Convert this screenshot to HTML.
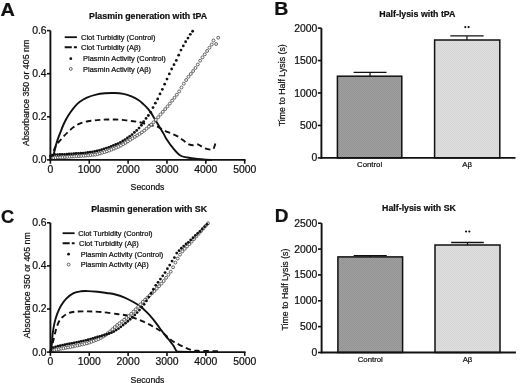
<!DOCTYPE html>
<html><head><meta charset="utf-8"><style>
html,body{margin:0;padding:0;background:#fff;width:520px;height:383px;overflow:hidden}
svg{will-change:transform} svg text{font-family:"Liberation Sans", sans-serif;stroke:#111;stroke-width:0.22px}
</style></head><body>
<svg width="520" height="383" viewBox="0 0 520 383" style="position:absolute;left:0;top:0;font-family:'Liberation Sans', sans-serif"><defs>
<pattern id="pd" width="2" height="2" patternUnits="userSpaceOnUse"><rect width="2" height="2" fill="#a0a0a0"/><rect width="1" height="1" fill="#939393"/><rect x="1" y="1" width="1" height="1" fill="#939393"/></pattern>
<pattern id="pl" width="2" height="2" patternUnits="userSpaceOnUse"><rect width="2" height="2" fill="#dedede"/><rect width="1" height="1" fill="#d6d6d6"/><rect x="1" y="1" width="1" height="1" fill="#d6d6d6"/></pattern>
</defs><rect width="520" height="383" fill="#fff"/><path d="M50.90,159.80 C51.27,159.22 52.52,157.67 53.10,156.30 C53.68,154.93 53.93,153.43 54.40,151.60 C54.87,149.77 55.33,147.38 55.90,145.30 C56.47,143.22 57.08,141.18 57.80,139.10 C58.52,137.02 59.28,135.15 60.20,132.80 C61.12,130.45 62.27,127.33 63.30,125.00 C64.33,122.67 65.23,120.88 66.40,118.80 C67.57,116.72 68.87,114.58 70.30,112.50 C71.73,110.42 73.47,108.05 75.00,106.30 C76.53,104.55 77.52,103.45 79.50,102.00 C81.48,100.55 84.13,98.83 86.90,97.60 C89.67,96.37 93.08,95.32 96.10,94.60 C99.12,93.88 101.98,93.57 105.00,93.30 C108.02,93.03 111.12,92.90 114.20,93.00 C117.28,93.10 120.62,93.33 123.50,93.90 C126.38,94.47 129.02,95.38 131.50,96.40 C133.98,97.42 136.38,98.67 138.40,100.00 C140.42,101.33 142.03,102.97 143.60,104.40 C145.17,105.83 146.58,107.23 147.80,108.60 C149.02,109.97 149.87,111.07 150.90,112.60 C151.93,114.13 152.95,116.07 154.00,117.80 C155.05,119.53 156.15,121.27 157.20,123.00 C158.25,124.73 159.27,126.47 160.30,128.20 C161.33,129.93 162.35,131.57 163.40,133.40 C164.45,135.23 164.98,136.73 166.60,139.20 C168.22,141.67 170.82,145.48 173.10,148.20 C175.38,150.92 177.90,153.95 180.30,155.50 C182.70,157.05 184.62,156.92 187.50,157.50 C190.38,158.08 194.47,158.63 197.60,159.00 C200.73,159.37 203.90,159.55 206.30,159.70 C208.70,159.85 211.05,159.87 212.00,159.90" fill="none" stroke="#111" stroke-width="1.9" stroke-linejoin="round"/>
<path d="M50.80,159.50 C51.10,158.50 51.95,155.35 52.60,153.50 C53.25,151.65 53.97,149.98 54.70,148.40 C55.43,146.82 56.08,145.33 57.00,144.00 C57.92,142.67 59.02,141.75 60.20,140.40 C61.38,139.05 62.67,137.42 64.10,135.90 C65.53,134.38 67.25,132.73 68.80,131.30 C70.35,129.87 71.58,128.58 73.40,127.30 C75.22,126.02 77.27,124.62 79.70,123.60 C82.13,122.58 85.03,121.78 88.00,121.20 C90.97,120.62 94.45,120.38 97.50,120.10 C100.55,119.82 103.28,119.60 106.30,119.50 C109.32,119.40 112.55,119.40 115.60,119.50 C118.65,119.60 121.70,119.82 124.60,120.10 C127.50,120.38 130.47,120.83 133.00,121.20 C135.53,121.57 137.37,121.73 139.80,122.30 C142.23,122.87 145.48,124.05 147.60,124.60 C149.72,125.15 150.78,125.23 152.50,125.60 C154.22,125.97 155.92,125.97 157.90,126.80 C159.88,127.63 162.12,129.47 164.40,130.60 C166.68,131.73 169.32,132.60 171.60,133.60 C173.88,134.60 176.17,135.48 178.10,136.60 C180.03,137.72 181.38,139.00 183.20,140.30 C185.02,141.60 187.32,143.57 189.00,144.40 C190.68,145.23 191.87,145.30 193.30,145.30 C194.73,145.30 196.40,144.32 197.60,144.40 C198.80,144.48 199.30,145.15 200.50,145.80 C201.70,146.45 203.12,147.67 204.80,148.30 C206.48,148.93 209.15,149.50 210.60,149.60 C212.05,149.70 212.65,150.10 213.50,148.90 C214.35,147.70 215.33,143.48 215.70,142.40" fill="none" stroke="#111" stroke-width="1.9" stroke-dasharray="5.5 3.5"/>
<circle cx="51.00" cy="158.00" r="1.45" fill="#fff" stroke="#4a4a4a" stroke-width="0.85"/>
<circle cx="53.33" cy="157.90" r="1.45" fill="#fff" stroke="#4a4a4a" stroke-width="0.85"/>
<circle cx="55.66" cy="157.80" r="1.45" fill="#fff" stroke="#4a4a4a" stroke-width="0.85"/>
<circle cx="57.99" cy="157.62" r="1.45" fill="#fff" stroke="#4a4a4a" stroke-width="0.85"/>
<circle cx="60.32" cy="157.44" r="1.45" fill="#fff" stroke="#4a4a4a" stroke-width="0.85"/>
<circle cx="62.65" cy="157.26" r="1.45" fill="#fff" stroke="#4a4a4a" stroke-width="0.85"/>
<circle cx="64.98" cy="157.07" r="1.45" fill="#fff" stroke="#4a4a4a" stroke-width="0.85"/>
<circle cx="67.31" cy="156.89" r="1.45" fill="#fff" stroke="#4a4a4a" stroke-width="0.85"/>
<circle cx="69.64" cy="156.74" r="1.45" fill="#fff" stroke="#4a4a4a" stroke-width="0.85"/>
<circle cx="71.97" cy="156.58" r="1.45" fill="#fff" stroke="#4a4a4a" stroke-width="0.85"/>
<circle cx="74.30" cy="156.42" r="1.45" fill="#fff" stroke="#4a4a4a" stroke-width="0.85"/>
<circle cx="76.63" cy="156.26" r="1.45" fill="#fff" stroke="#4a4a4a" stroke-width="0.85"/>
<circle cx="78.96" cy="156.11" r="1.45" fill="#fff" stroke="#4a4a4a" stroke-width="0.85"/>
<circle cx="81.29" cy="155.95" r="1.45" fill="#fff" stroke="#4a4a4a" stroke-width="0.85"/>
<circle cx="83.62" cy="155.79" r="1.45" fill="#fff" stroke="#4a4a4a" stroke-width="0.85"/>
<circle cx="85.95" cy="155.60" r="1.45" fill="#fff" stroke="#4a4a4a" stroke-width="0.85"/>
<circle cx="88.28" cy="155.36" r="1.45" fill="#fff" stroke="#4a4a4a" stroke-width="0.85"/>
<circle cx="90.61" cy="155.11" r="1.45" fill="#fff" stroke="#4a4a4a" stroke-width="0.85"/>
<circle cx="92.94" cy="154.87" r="1.45" fill="#fff" stroke="#4a4a4a" stroke-width="0.85"/>
<circle cx="95.27" cy="154.63" r="1.45" fill="#fff" stroke="#4a4a4a" stroke-width="0.85"/>
<circle cx="97.60" cy="154.17" r="1.45" fill="#fff" stroke="#4a4a4a" stroke-width="0.85"/>
<circle cx="99.93" cy="153.47" r="1.45" fill="#fff" stroke="#4a4a4a" stroke-width="0.85"/>
<circle cx="102.26" cy="152.76" r="1.45" fill="#fff" stroke="#4a4a4a" stroke-width="0.85"/>
<circle cx="104.59" cy="152.06" r="1.45" fill="#fff" stroke="#4a4a4a" stroke-width="0.85"/>
<circle cx="106.92" cy="151.36" r="1.45" fill="#fff" stroke="#4a4a4a" stroke-width="0.85"/>
<circle cx="109.25" cy="150.53" r="1.45" fill="#fff" stroke="#4a4a4a" stroke-width="0.85"/>
<circle cx="111.58" cy="149.58" r="1.45" fill="#fff" stroke="#4a4a4a" stroke-width="0.85"/>
<circle cx="113.91" cy="148.63" r="1.45" fill="#fff" stroke="#4a4a4a" stroke-width="0.85"/>
<circle cx="116.24" cy="147.67" r="1.45" fill="#fff" stroke="#4a4a4a" stroke-width="0.85"/>
<circle cx="118.57" cy="146.72" r="1.45" fill="#fff" stroke="#4a4a4a" stroke-width="0.85"/>
<circle cx="120.90" cy="145.55" r="1.45" fill="#fff" stroke="#4a4a4a" stroke-width="0.85"/>
<circle cx="123.23" cy="144.20" r="1.45" fill="#fff" stroke="#4a4a4a" stroke-width="0.85"/>
<circle cx="125.56" cy="142.85" r="1.45" fill="#fff" stroke="#4a4a4a" stroke-width="0.85"/>
<circle cx="127.89" cy="141.36" r="1.45" fill="#fff" stroke="#4a4a4a" stroke-width="0.85"/>
<circle cx="130.22" cy="139.83" r="1.45" fill="#fff" stroke="#4a4a4a" stroke-width="0.85"/>
<circle cx="132.55" cy="138.32" r="1.45" fill="#fff" stroke="#4a4a4a" stroke-width="0.85"/>
<circle cx="134.88" cy="136.88" r="1.45" fill="#fff" stroke="#4a4a4a" stroke-width="0.85"/>
<circle cx="137.21" cy="135.42" r="1.45" fill="#fff" stroke="#4a4a4a" stroke-width="0.85"/>
<circle cx="139.54" cy="133.95" r="1.45" fill="#fff" stroke="#4a4a4a" stroke-width="0.85"/>
<circle cx="141.87" cy="132.31" r="1.45" fill="#fff" stroke="#4a4a4a" stroke-width="0.85"/>
<circle cx="144.20" cy="130.60" r="1.45" fill="#fff" stroke="#4a4a4a" stroke-width="0.85"/>
<circle cx="146.53" cy="128.68" r="1.45" fill="#fff" stroke="#4a4a4a" stroke-width="0.85"/>
<circle cx="148.86" cy="126.71" r="1.45" fill="#fff" stroke="#4a4a4a" stroke-width="0.85"/>
<circle cx="151.19" cy="124.68" r="1.45" fill="#fff" stroke="#4a4a4a" stroke-width="0.85"/>
<circle cx="153.52" cy="122.38" r="1.45" fill="#fff" stroke="#4a4a4a" stroke-width="0.85"/>
<circle cx="155.85" cy="119.88" r="1.45" fill="#fff" stroke="#4a4a4a" stroke-width="0.85"/>
<circle cx="158.18" cy="117.24" r="1.45" fill="#fff" stroke="#4a4a4a" stroke-width="0.85"/>
<circle cx="160.51" cy="114.52" r="1.45" fill="#fff" stroke="#4a4a4a" stroke-width="0.85"/>
<circle cx="162.84" cy="111.82" r="1.45" fill="#fff" stroke="#4a4a4a" stroke-width="0.85"/>
<circle cx="165.17" cy="109.12" r="1.45" fill="#fff" stroke="#4a4a4a" stroke-width="0.85"/>
<circle cx="167.50" cy="106.40" r="1.45" fill="#fff" stroke="#4a4a4a" stroke-width="0.85"/>
<circle cx="169.83" cy="103.56" r="1.45" fill="#fff" stroke="#4a4a4a" stroke-width="0.85"/>
<circle cx="172.16" cy="100.67" r="1.45" fill="#fff" stroke="#4a4a4a" stroke-width="0.85"/>
<circle cx="174.49" cy="97.76" r="1.45" fill="#fff" stroke="#4a4a4a" stroke-width="0.85"/>
<circle cx="176.82" cy="94.72" r="1.45" fill="#fff" stroke="#4a4a4a" stroke-width="0.85"/>
<circle cx="179.15" cy="91.42" r="1.45" fill="#fff" stroke="#4a4a4a" stroke-width="0.85"/>
<circle cx="181.48" cy="87.53" r="1.45" fill="#fff" stroke="#4a4a4a" stroke-width="0.85"/>
<circle cx="183.81" cy="83.65" r="1.45" fill="#fff" stroke="#4a4a4a" stroke-width="0.85"/>
<circle cx="186.14" cy="80.04" r="1.45" fill="#fff" stroke="#4a4a4a" stroke-width="0.85"/>
<circle cx="188.47" cy="76.80" r="1.45" fill="#fff" stroke="#4a4a4a" stroke-width="0.85"/>
<circle cx="190.80" cy="73.93" r="1.45" fill="#fff" stroke="#4a4a4a" stroke-width="0.85"/>
<circle cx="193.13" cy="71.06" r="1.45" fill="#fff" stroke="#4a4a4a" stroke-width="0.85"/>
<circle cx="195.46" cy="67.96" r="1.45" fill="#fff" stroke="#4a4a4a" stroke-width="0.85"/>
<circle cx="197.79" cy="64.51" r="1.45" fill="#fff" stroke="#4a4a4a" stroke-width="0.85"/>
<circle cx="200.12" cy="60.70" r="1.45" fill="#fff" stroke="#4a4a4a" stroke-width="0.85"/>
<circle cx="202.45" cy="57.36" r="1.45" fill="#fff" stroke="#4a4a4a" stroke-width="0.85"/>
<circle cx="204.78" cy="54.32" r="1.45" fill="#fff" stroke="#4a4a4a" stroke-width="0.85"/>
<circle cx="207.11" cy="50.96" r="1.45" fill="#fff" stroke="#4a4a4a" stroke-width="0.85"/>
<circle cx="209.44" cy="47.69" r="1.45" fill="#fff" stroke="#4a4a4a" stroke-width="0.85"/>
<circle cx="211.77" cy="44.55" r="1.45" fill="#fff" stroke="#4a4a4a" stroke-width="0.85"/>
<circle cx="216.10" cy="44.00" r="1.45" fill="#fff" stroke="#4a4a4a" stroke-width="0.85"/>
<circle cx="218.20" cy="37.70" r="1.45" fill="#fff" stroke="#4a4a4a" stroke-width="0.85"/>
<circle cx="213.50" cy="40.50" r="1.45" fill="#fff" stroke="#4a4a4a" stroke-width="0.85"/>
<circle cx="50.50" cy="156.00" r="1.4" fill="#111"/>
<circle cx="52.83" cy="155.07" r="1.4" fill="#111"/>
<circle cx="55.16" cy="154.58" r="1.4" fill="#111"/>
<circle cx="57.49" cy="154.53" r="1.4" fill="#111"/>
<circle cx="59.82" cy="154.48" r="1.4" fill="#111"/>
<circle cx="62.15" cy="154.43" r="1.4" fill="#111"/>
<circle cx="64.48" cy="154.33" r="1.4" fill="#111"/>
<circle cx="66.81" cy="154.16" r="1.4" fill="#111"/>
<circle cx="69.14" cy="154.00" r="1.4" fill="#111"/>
<circle cx="71.47" cy="153.84" r="1.4" fill="#111"/>
<circle cx="73.80" cy="153.68" r="1.4" fill="#111"/>
<circle cx="76.13" cy="153.52" r="1.4" fill="#111"/>
<circle cx="78.46" cy="153.35" r="1.4" fill="#111"/>
<circle cx="80.79" cy="153.19" r="1.4" fill="#111"/>
<circle cx="83.12" cy="153.03" r="1.4" fill="#111"/>
<circle cx="85.45" cy="152.83" r="1.4" fill="#111"/>
<circle cx="87.78" cy="152.49" r="1.4" fill="#111"/>
<circle cx="90.11" cy="152.14" r="1.4" fill="#111"/>
<circle cx="92.44" cy="151.80" r="1.4" fill="#111"/>
<circle cx="94.77" cy="151.46" r="1.4" fill="#111"/>
<circle cx="97.10" cy="151.01" r="1.4" fill="#111"/>
<circle cx="99.43" cy="150.29" r="1.4" fill="#111"/>
<circle cx="101.76" cy="149.57" r="1.4" fill="#111"/>
<circle cx="104.09" cy="148.84" r="1.4" fill="#111"/>
<circle cx="106.42" cy="148.12" r="1.4" fill="#111"/>
<circle cx="108.75" cy="147.33" r="1.4" fill="#111"/>
<circle cx="111.08" cy="146.38" r="1.4" fill="#111"/>
<circle cx="113.41" cy="145.43" r="1.4" fill="#111"/>
<circle cx="115.74" cy="144.48" r="1.4" fill="#111"/>
<circle cx="118.07" cy="143.53" r="1.4" fill="#111"/>
<circle cx="120.40" cy="142.42" r="1.4" fill="#111"/>
<circle cx="122.73" cy="141.01" r="1.4" fill="#111"/>
<circle cx="125.06" cy="139.61" r="1.4" fill="#111"/>
<circle cx="127.39" cy="137.99" r="1.4" fill="#111"/>
<circle cx="129.72" cy="136.33" r="1.4" fill="#111"/>
<circle cx="132.05" cy="134.58" r="1.4" fill="#111"/>
<circle cx="134.38" cy="132.44" r="1.4" fill="#111"/>
<circle cx="136.71" cy="130.38" r="1.4" fill="#111"/>
<circle cx="139.04" cy="128.03" r="1.4" fill="#111"/>
<circle cx="141.37" cy="125.25" r="1.4" fill="#111"/>
<circle cx="143.70" cy="121.75" r="1.4" fill="#111"/>
<circle cx="146.03" cy="118.39" r="1.4" fill="#111"/>
<circle cx="148.36" cy="115.52" r="1.4" fill="#111"/>
<circle cx="150.69" cy="112.29" r="1.4" fill="#111"/>
<circle cx="153.02" cy="107.56" r="1.4" fill="#111"/>
<circle cx="155.35" cy="103.15" r="1.4" fill="#111"/>
<circle cx="157.68" cy="98.91" r="1.4" fill="#111"/>
<circle cx="160.01" cy="93.89" r="1.4" fill="#111"/>
<circle cx="162.34" cy="89.31" r="1.4" fill="#111"/>
<circle cx="164.67" cy="84.19" r="1.4" fill="#111"/>
<circle cx="167.00" cy="79.06" r="1.4" fill="#111"/>
<circle cx="169.33" cy="73.91" r="1.4" fill="#111"/>
<circle cx="171.66" cy="68.98" r="1.4" fill="#111"/>
<circle cx="173.99" cy="64.72" r="1.4" fill="#111"/>
<circle cx="176.32" cy="60.45" r="1.4" fill="#111"/>
<circle cx="178.65" cy="55.21" r="1.4" fill="#111"/>
<circle cx="180.98" cy="50.09" r="1.4" fill="#111"/>
<circle cx="183.31" cy="45.89" r="1.4" fill="#111"/>
<circle cx="185.64" cy="41.76" r="1.4" fill="#111"/>
<circle cx="187.97" cy="38.05" r="1.4" fill="#111"/>
<circle cx="190.30" cy="34.37" r="1.4" fill="#111"/>
<circle cx="192.63" cy="31.23" r="1.4" fill="#111"/>
<line x1="50.4" y1="30.6" x2="50.4" y2="160.75" stroke="#111" stroke-width="1.9"/>
<line x1="49.55" y1="159.9" x2="245.55" y2="159.9" stroke="#111" stroke-width="1.9"/>
<line x1="47.0" y1="159.9" x2="50.4" y2="159.9" stroke="#111" stroke-width="1.6"/>
<text x="46.6" y="163.3" font-size="10.4" text-anchor="end" font-weight="normal" fill="#111" >0.0</text>
<line x1="47.0" y1="116.8" x2="50.4" y2="116.8" stroke="#111" stroke-width="1.6"/>
<text x="46.6" y="120.2" font-size="10.4" text-anchor="end" font-weight="normal" fill="#111" >0.2</text>
<line x1="47.0" y1="73.69999999999999" x2="50.4" y2="73.69999999999999" stroke="#111" stroke-width="1.6"/>
<text x="46.6" y="77.1" font-size="10.4" text-anchor="end" font-weight="normal" fill="#111" >0.4</text>
<line x1="47.0" y1="30.599999999999966" x2="50.4" y2="30.599999999999966" stroke="#111" stroke-width="1.6"/>
<text x="46.6" y="33.999999999999964" font-size="10.4" text-anchor="end" font-weight="normal" fill="#111" >0.6</text>
<line x1="50.4" y1="159.9" x2="50.4" y2="163.70000000000002" stroke="#111" stroke-width="1.6"/>
<text x="50.4" y="172.8" font-size="10.4" text-anchor="middle" font-weight="normal" fill="#111" >0</text>
<line x1="89.25999999999999" y1="159.9" x2="89.25999999999999" y2="163.70000000000002" stroke="#111" stroke-width="1.6"/>
<text x="89.25999999999999" y="172.8" font-size="10.4" text-anchor="middle" font-weight="normal" fill="#111" >1000</text>
<line x1="128.12" y1="159.9" x2="128.12" y2="163.70000000000002" stroke="#111" stroke-width="1.6"/>
<text x="128.12" y="172.8" font-size="10.4" text-anchor="middle" font-weight="normal" fill="#111" >2000</text>
<line x1="166.98" y1="159.9" x2="166.98" y2="163.70000000000002" stroke="#111" stroke-width="1.6"/>
<text x="166.98" y="172.8" font-size="10.4" text-anchor="middle" font-weight="normal" fill="#111" >3000</text>
<line x1="205.84" y1="159.9" x2="205.84" y2="163.70000000000002" stroke="#111" stroke-width="1.6"/>
<text x="205.84" y="172.8" font-size="10.4" text-anchor="middle" font-weight="normal" fill="#111" >4000</text>
<line x1="244.70000000000002" y1="159.9" x2="244.70000000000002" y2="163.70000000000002" stroke="#111" stroke-width="1.6"/>
<text x="244.70000000000002" y="172.8" font-size="10.4" text-anchor="middle" font-weight="normal" fill="#111" >5000</text>
<text x="147.5" y="190.4" font-size="8.7" text-anchor="middle" font-weight="normal" fill="#111" >Seconds</text>
<text transform="translate(28.6,92.85) rotate(-90)" font-size="8.8" text-anchor="middle" fill="#111">Absorbance 350 or 405 nm</text>
<text x="148.1" y="19.4" font-size="8.8" text-anchor="middle" font-weight="bold" fill="#111" >Plasmin generation with tPA</text>
<text transform="translate(0.6,15.6) scale(1.08,1)" font-size="18.4" font-weight="bold" fill="#111">A</text>
<line x1="64.7" y1="37.2" x2="76.9" y2="37.2" stroke="#111" stroke-width="1.8"/>
<line x1="64.7" y1="47.199999999999996" x2="76.9" y2="47.199999999999996" stroke="#111" stroke-width="1.9" stroke-dasharray="7.1 2.1"/>
<circle cx="70.80000000000001" cy="58.699999999999996" r="1.4" fill="#111"/>
<circle cx="70.80000000000001" cy="68.89999999999999" r="1.45" fill="#fff" stroke="#4a4a4a" stroke-width="0.85"/>
<text x="81.1" y="40" font-size="7.45" text-anchor="start" font-weight="normal" fill="#111" >Clot Turbidity (Control)</text>
<text x="81.1" y="49.8" font-size="7.45" text-anchor="start" font-weight="normal" fill="#111" >Clot Turbidity (A&#946;)</text>
<text x="83.1" y="61.4" font-size="7.45" text-anchor="start" font-weight="normal" fill="#111" >Plasmin Activity (Control)</text>
<text x="83.1" y="71.6" font-size="7.45" text-anchor="start" font-weight="normal" fill="#111" >Plasmin Activity (A&#946;)</text>
<path d="M50.50,351.80 C50.60,351.25 50.90,349.58 51.10,348.50 C51.30,347.42 51.45,347.67 51.70,345.30 C51.95,342.93 52.15,337.95 52.60,334.30 C53.05,330.65 53.65,326.75 54.40,323.40 C55.15,320.05 56.03,317.10 57.10,314.20 C58.17,311.30 59.27,308.58 60.80,306.00 C62.33,303.42 64.17,300.83 66.30,298.70 C68.43,296.57 71.17,294.43 73.60,293.20 C76.03,291.97 78.50,291.65 80.90,291.30 C83.30,290.95 85.25,291.02 88.00,291.10 C90.75,291.18 94.32,291.48 97.40,291.80 C100.48,292.12 103.50,292.55 106.50,293.00 C109.50,293.45 112.38,293.73 115.40,294.50 C118.42,295.27 121.77,296.43 124.60,297.60 C127.43,298.77 129.80,300.05 132.40,301.50 C135.00,302.95 137.82,304.52 140.20,306.30 C142.58,308.08 144.53,310.03 146.70,312.20 C148.87,314.37 151.02,316.63 153.20,319.30 C155.38,321.97 157.73,325.45 159.80,328.20 C161.87,330.95 163.93,333.70 165.60,335.80 C167.27,337.90 168.67,339.40 169.80,340.80 C170.93,342.20 171.68,343.20 172.40,344.20 C173.12,345.20 173.60,345.95 174.10,346.80 C174.60,347.65 174.98,348.60 175.40,349.30 C175.82,350.00 175.83,350.58 176.60,351.00 C177.37,351.42 176.10,351.63 180.00,351.80 C183.90,351.97 196.67,351.97 200.00,352.00" fill="none" stroke="#111" stroke-width="1.9" stroke-linejoin="round"/>
<path d="M50.50,351.80 C50.75,350.83 51.50,348.00 52.00,346.00 C52.50,344.00 52.80,342.67 53.50,339.80 C54.20,336.93 55.28,331.85 56.20,328.80 C57.12,325.75 57.93,323.47 59.00,321.50 C60.07,319.53 61.08,318.37 62.60,317.00 C64.12,315.63 65.97,314.20 68.10,313.30 C70.23,312.40 72.08,311.92 75.40,311.60 C78.72,311.28 83.57,311.32 88.00,311.40 C92.43,311.48 96.92,311.63 102.00,312.10 C107.08,312.57 114.17,313.62 118.50,314.20 C122.83,314.78 125.90,315.18 128.00,315.60 C130.10,316.02 128.73,315.78 131.10,316.70 C133.47,317.62 138.50,319.43 142.20,321.10 C145.90,322.77 149.97,324.85 153.30,326.70 C156.63,328.55 159.25,329.98 162.20,332.20 C165.15,334.42 168.45,338.07 171.00,340.00 C173.55,341.93 175.30,342.60 177.50,343.80 C179.70,345.00 181.95,346.18 184.20,347.20 C186.45,348.22 188.75,349.30 191.00,349.90 C193.25,350.50 193.00,350.58 197.70,350.80 C202.40,351.02 215.62,351.13 219.20,351.20" fill="none" stroke="#111" stroke-width="1.9" stroke-dasharray="5.5 3.5"/>
<circle cx="51.90" cy="350.50" r="1.45" fill="#fff" stroke="#4a4a4a" stroke-width="0.85"/>
<circle cx="54.23" cy="350.02" r="1.45" fill="#fff" stroke="#4a4a4a" stroke-width="0.85"/>
<circle cx="56.56" cy="349.57" r="1.45" fill="#fff" stroke="#4a4a4a" stroke-width="0.85"/>
<circle cx="58.89" cy="349.14" r="1.45" fill="#fff" stroke="#4a4a4a" stroke-width="0.85"/>
<circle cx="61.22" cy="348.70" r="1.45" fill="#fff" stroke="#4a4a4a" stroke-width="0.85"/>
<circle cx="63.55" cy="348.27" r="1.45" fill="#fff" stroke="#4a4a4a" stroke-width="0.85"/>
<circle cx="65.88" cy="347.84" r="1.45" fill="#fff" stroke="#4a4a4a" stroke-width="0.85"/>
<circle cx="68.21" cy="347.41" r="1.45" fill="#fff" stroke="#4a4a4a" stroke-width="0.85"/>
<circle cx="70.54" cy="346.98" r="1.45" fill="#fff" stroke="#4a4a4a" stroke-width="0.85"/>
<circle cx="72.87" cy="346.49" r="1.45" fill="#fff" stroke="#4a4a4a" stroke-width="0.85"/>
<circle cx="75.20" cy="345.97" r="1.45" fill="#fff" stroke="#4a4a4a" stroke-width="0.85"/>
<circle cx="77.53" cy="345.45" r="1.45" fill="#fff" stroke="#4a4a4a" stroke-width="0.85"/>
<circle cx="79.86" cy="344.93" r="1.45" fill="#fff" stroke="#4a4a4a" stroke-width="0.85"/>
<circle cx="82.19" cy="344.40" r="1.45" fill="#fff" stroke="#4a4a4a" stroke-width="0.85"/>
<circle cx="84.52" cy="343.88" r="1.45" fill="#fff" stroke="#4a4a4a" stroke-width="0.85"/>
<circle cx="86.85" cy="343.36" r="1.45" fill="#fff" stroke="#4a4a4a" stroke-width="0.85"/>
<circle cx="89.18" cy="342.66" r="1.45" fill="#fff" stroke="#4a4a4a" stroke-width="0.85"/>
<circle cx="91.51" cy="341.78" r="1.45" fill="#fff" stroke="#4a4a4a" stroke-width="0.85"/>
<circle cx="93.84" cy="340.90" r="1.45" fill="#fff" stroke="#4a4a4a" stroke-width="0.85"/>
<circle cx="96.17" cy="340.03" r="1.45" fill="#fff" stroke="#4a4a4a" stroke-width="0.85"/>
<circle cx="98.50" cy="339.15" r="1.45" fill="#fff" stroke="#4a4a4a" stroke-width="0.85"/>
<circle cx="100.83" cy="337.89" r="1.45" fill="#fff" stroke="#4a4a4a" stroke-width="0.85"/>
<circle cx="103.16" cy="336.56" r="1.45" fill="#fff" stroke="#4a4a4a" stroke-width="0.85"/>
<circle cx="105.49" cy="335.11" r="1.45" fill="#fff" stroke="#4a4a4a" stroke-width="0.85"/>
<circle cx="107.82" cy="333.24" r="1.45" fill="#fff" stroke="#4a4a4a" stroke-width="0.85"/>
<circle cx="110.15" cy="331.36" r="1.45" fill="#fff" stroke="#4a4a4a" stroke-width="0.85"/>
<circle cx="112.48" cy="329.21" r="1.45" fill="#fff" stroke="#4a4a4a" stroke-width="0.85"/>
<circle cx="114.81" cy="327.06" r="1.45" fill="#fff" stroke="#4a4a4a" stroke-width="0.85"/>
<circle cx="117.14" cy="325.02" r="1.45" fill="#fff" stroke="#4a4a4a" stroke-width="0.85"/>
<circle cx="119.47" cy="323.30" r="1.45" fill="#fff" stroke="#4a4a4a" stroke-width="0.85"/>
<circle cx="121.80" cy="321.57" r="1.45" fill="#fff" stroke="#4a4a4a" stroke-width="0.85"/>
<circle cx="124.13" cy="319.78" r="1.45" fill="#fff" stroke="#4a4a4a" stroke-width="0.85"/>
<circle cx="126.46" cy="317.91" r="1.45" fill="#fff" stroke="#4a4a4a" stroke-width="0.85"/>
<circle cx="128.79" cy="316.05" r="1.45" fill="#fff" stroke="#4a4a4a" stroke-width="0.85"/>
<circle cx="131.12" cy="313.90" r="1.45" fill="#fff" stroke="#4a4a4a" stroke-width="0.85"/>
<circle cx="133.45" cy="311.61" r="1.45" fill="#fff" stroke="#4a4a4a" stroke-width="0.85"/>
<circle cx="135.78" cy="309.32" r="1.45" fill="#fff" stroke="#4a4a4a" stroke-width="0.85"/>
<circle cx="138.11" cy="306.84" r="1.45" fill="#fff" stroke="#4a4a4a" stroke-width="0.85"/>
<circle cx="140.44" cy="304.33" r="1.45" fill="#fff" stroke="#4a4a4a" stroke-width="0.85"/>
<circle cx="142.77" cy="301.84" r="1.45" fill="#fff" stroke="#4a4a4a" stroke-width="0.85"/>
<circle cx="145.10" cy="299.69" r="1.45" fill="#fff" stroke="#4a4a4a" stroke-width="0.85"/>
<circle cx="147.43" cy="297.54" r="1.45" fill="#fff" stroke="#4a4a4a" stroke-width="0.85"/>
<circle cx="149.76" cy="295.38" r="1.45" fill="#fff" stroke="#4a4a4a" stroke-width="0.85"/>
<circle cx="152.09" cy="293.18" r="1.45" fill="#fff" stroke="#4a4a4a" stroke-width="0.85"/>
<circle cx="154.42" cy="290.98" r="1.45" fill="#fff" stroke="#4a4a4a" stroke-width="0.85"/>
<circle cx="156.75" cy="288.56" r="1.45" fill="#fff" stroke="#4a4a4a" stroke-width="0.85"/>
<circle cx="159.08" cy="286.14" r="1.45" fill="#fff" stroke="#4a4a4a" stroke-width="0.85"/>
<circle cx="161.41" cy="283.60" r="1.45" fill="#fff" stroke="#4a4a4a" stroke-width="0.85"/>
<circle cx="163.74" cy="280.98" r="1.45" fill="#fff" stroke="#4a4a4a" stroke-width="0.85"/>
<circle cx="166.07" cy="277.87" r="1.45" fill="#fff" stroke="#4a4a4a" stroke-width="0.85"/>
<circle cx="168.40" cy="274.77" r="1.45" fill="#fff" stroke="#4a4a4a" stroke-width="0.85"/>
<circle cx="170.73" cy="271.66" r="1.45" fill="#fff" stroke="#4a4a4a" stroke-width="0.85"/>
<circle cx="173.06" cy="267.22" r="1.45" fill="#fff" stroke="#4a4a4a" stroke-width="0.85"/>
<circle cx="175.39" cy="262.61" r="1.45" fill="#fff" stroke="#4a4a4a" stroke-width="0.85"/>
<circle cx="177.72" cy="258.52" r="1.45" fill="#fff" stroke="#4a4a4a" stroke-width="0.85"/>
<circle cx="180.05" cy="254.64" r="1.45" fill="#fff" stroke="#4a4a4a" stroke-width="0.85"/>
<circle cx="182.38" cy="251.42" r="1.45" fill="#fff" stroke="#4a4a4a" stroke-width="0.85"/>
<circle cx="184.71" cy="248.83" r="1.45" fill="#fff" stroke="#4a4a4a" stroke-width="0.85"/>
<circle cx="187.04" cy="246.46" r="1.45" fill="#fff" stroke="#4a4a4a" stroke-width="0.85"/>
<circle cx="189.37" cy="244.12" r="1.45" fill="#fff" stroke="#4a4a4a" stroke-width="0.85"/>
<circle cx="191.70" cy="241.64" r="1.45" fill="#fff" stroke="#4a4a4a" stroke-width="0.85"/>
<circle cx="194.03" cy="239.06" r="1.45" fill="#fff" stroke="#4a4a4a" stroke-width="0.85"/>
<circle cx="196.36" cy="236.42" r="1.45" fill="#fff" stroke="#4a4a4a" stroke-width="0.85"/>
<circle cx="198.69" cy="233.77" r="1.45" fill="#fff" stroke="#4a4a4a" stroke-width="0.85"/>
<circle cx="201.02" cy="231.12" r="1.45" fill="#fff" stroke="#4a4a4a" stroke-width="0.85"/>
<circle cx="203.35" cy="228.50" r="1.45" fill="#fff" stroke="#4a4a4a" stroke-width="0.85"/>
<circle cx="205.68" cy="225.90" r="1.45" fill="#fff" stroke="#4a4a4a" stroke-width="0.85"/>
<circle cx="208.01" cy="223.30" r="1.45" fill="#fff" stroke="#4a4a4a" stroke-width="0.85"/>
<circle cx="50.90" cy="350.00" r="1.4" fill="#111"/>
<circle cx="53.23" cy="347.55" r="1.4" fill="#111"/>
<circle cx="55.56" cy="346.86" r="1.4" fill="#111"/>
<circle cx="57.89" cy="346.18" r="1.4" fill="#111"/>
<circle cx="60.22" cy="345.69" r="1.4" fill="#111"/>
<circle cx="62.55" cy="345.19" r="1.4" fill="#111"/>
<circle cx="64.88" cy="344.70" r="1.4" fill="#111"/>
<circle cx="67.21" cy="344.22" r="1.4" fill="#111"/>
<circle cx="69.54" cy="343.76" r="1.4" fill="#111"/>
<circle cx="71.87" cy="343.30" r="1.4" fill="#111"/>
<circle cx="74.20" cy="342.83" r="1.4" fill="#111"/>
<circle cx="76.53" cy="342.37" r="1.4" fill="#111"/>
<circle cx="78.86" cy="341.87" r="1.4" fill="#111"/>
<circle cx="81.19" cy="341.34" r="1.4" fill="#111"/>
<circle cx="83.52" cy="340.81" r="1.4" fill="#111"/>
<circle cx="85.85" cy="340.29" r="1.4" fill="#111"/>
<circle cx="88.18" cy="339.75" r="1.4" fill="#111"/>
<circle cx="90.51" cy="339.03" r="1.4" fill="#111"/>
<circle cx="92.84" cy="338.32" r="1.4" fill="#111"/>
<circle cx="95.17" cy="337.61" r="1.4" fill="#111"/>
<circle cx="97.50" cy="336.96" r="1.4" fill="#111"/>
<circle cx="99.83" cy="336.32" r="1.4" fill="#111"/>
<circle cx="102.16" cy="335.67" r="1.4" fill="#111"/>
<circle cx="104.49" cy="335.02" r="1.4" fill="#111"/>
<circle cx="106.82" cy="334.28" r="1.4" fill="#111"/>
<circle cx="109.15" cy="333.48" r="1.4" fill="#111"/>
<circle cx="111.48" cy="332.68" r="1.4" fill="#111"/>
<circle cx="113.81" cy="331.54" r="1.4" fill="#111"/>
<circle cx="116.14" cy="330.07" r="1.4" fill="#111"/>
<circle cx="118.47" cy="328.60" r="1.4" fill="#111"/>
<circle cx="120.80" cy="326.86" r="1.4" fill="#111"/>
<circle cx="123.13" cy="325.02" r="1.4" fill="#111"/>
<circle cx="125.46" cy="323.19" r="1.4" fill="#111"/>
<circle cx="127.79" cy="321.23" r="1.4" fill="#111"/>
<circle cx="130.12" cy="319.26" r="1.4" fill="#111"/>
<circle cx="132.45" cy="317.25" r="1.4" fill="#111"/>
<circle cx="134.78" cy="314.92" r="1.4" fill="#111"/>
<circle cx="137.11" cy="312.59" r="1.4" fill="#111"/>
<circle cx="139.44" cy="310.09" r="1.4" fill="#111"/>
<circle cx="141.77" cy="307.22" r="1.4" fill="#111"/>
<circle cx="144.10" cy="304.35" r="1.4" fill="#111"/>
<circle cx="146.43" cy="300.95" r="1.4" fill="#111"/>
<circle cx="148.76" cy="297.07" r="1.4" fill="#111"/>
<circle cx="151.09" cy="293.16" r="1.4" fill="#111"/>
<circle cx="153.42" cy="289.24" r="1.4" fill="#111"/>
<circle cx="155.75" cy="285.34" r="1.4" fill="#111"/>
<circle cx="158.08" cy="282.35" r="1.4" fill="#111"/>
<circle cx="160.41" cy="279.03" r="1.4" fill="#111"/>
<circle cx="162.74" cy="275.84" r="1.4" fill="#111"/>
<circle cx="165.07" cy="272.53" r="1.4" fill="#111"/>
<circle cx="167.40" cy="268.70" r="1.4" fill="#111"/>
<circle cx="169.73" cy="265.04" r="1.4" fill="#111"/>
<circle cx="172.06" cy="261.05" r="1.4" fill="#111"/>
<circle cx="174.39" cy="257.53" r="1.4" fill="#111"/>
<circle cx="176.72" cy="253.11" r="1.4" fill="#111"/>
<circle cx="179.05" cy="250.66" r="1.4" fill="#111"/>
<circle cx="181.38" cy="248.23" r="1.4" fill="#111"/>
<circle cx="183.71" cy="246.10" r="1.4" fill="#111"/>
<circle cx="186.04" cy="244.00" r="1.4" fill="#111"/>
<circle cx="188.37" cy="242.29" r="1.4" fill="#111"/>
<circle cx="190.70" cy="240.00" r="1.4" fill="#111"/>
<circle cx="193.03" cy="237.67" r="1.4" fill="#111"/>
<circle cx="195.36" cy="235.41" r="1.4" fill="#111"/>
<circle cx="197.69" cy="233.32" r="1.4" fill="#111"/>
<circle cx="200.02" cy="231.28" r="1.4" fill="#111"/>
<circle cx="202.35" cy="228.95" r="1.4" fill="#111"/>
<circle cx="204.68" cy="226.62" r="1.4" fill="#111"/>
<circle cx="207.01" cy="224.29" r="1.4" fill="#111"/>
<line x1="50.4" y1="222.79999999999998" x2="50.4" y2="352.95000000000005" stroke="#111" stroke-width="1.9"/>
<line x1="49.55" y1="352.1" x2="245.55" y2="352.1" stroke="#111" stroke-width="1.9"/>
<line x1="47.0" y1="352.1" x2="50.4" y2="352.1" stroke="#111" stroke-width="1.6"/>
<text x="46.6" y="355.5" font-size="10.4" text-anchor="end" font-weight="normal" fill="#111" >0.0</text>
<line x1="47.0" y1="309.0" x2="50.4" y2="309.0" stroke="#111" stroke-width="1.6"/>
<text x="46.6" y="312.4" font-size="10.4" text-anchor="end" font-weight="normal" fill="#111" >0.2</text>
<line x1="47.0" y1="265.9" x2="50.4" y2="265.9" stroke="#111" stroke-width="1.6"/>
<text x="46.6" y="269.29999999999995" font-size="10.4" text-anchor="end" font-weight="normal" fill="#111" >0.4</text>
<line x1="47.0" y1="222.79999999999995" x2="50.4" y2="222.79999999999995" stroke="#111" stroke-width="1.6"/>
<text x="46.6" y="226.19999999999996" font-size="10.4" text-anchor="end" font-weight="normal" fill="#111" >0.6</text>
<line x1="50.4" y1="352.1" x2="50.4" y2="355.90000000000003" stroke="#111" stroke-width="1.6"/>
<text x="50.4" y="365.0" font-size="10.4" text-anchor="middle" font-weight="normal" fill="#111" >0</text>
<line x1="89.25999999999999" y1="352.1" x2="89.25999999999999" y2="355.90000000000003" stroke="#111" stroke-width="1.6"/>
<text x="89.25999999999999" y="365.0" font-size="10.4" text-anchor="middle" font-weight="normal" fill="#111" >1000</text>
<line x1="128.12" y1="352.1" x2="128.12" y2="355.90000000000003" stroke="#111" stroke-width="1.6"/>
<text x="128.12" y="365.0" font-size="10.4" text-anchor="middle" font-weight="normal" fill="#111" >2000</text>
<line x1="166.98" y1="352.1" x2="166.98" y2="355.90000000000003" stroke="#111" stroke-width="1.6"/>
<text x="166.98" y="365.0" font-size="10.4" text-anchor="middle" font-weight="normal" fill="#111" >3000</text>
<line x1="205.84" y1="352.1" x2="205.84" y2="355.90000000000003" stroke="#111" stroke-width="1.6"/>
<text x="205.84" y="365.0" font-size="10.4" text-anchor="middle" font-weight="normal" fill="#111" >4000</text>
<line x1="244.70000000000002" y1="352.1" x2="244.70000000000002" y2="355.90000000000003" stroke="#111" stroke-width="1.6"/>
<text x="244.70000000000002" y="365.0" font-size="10.4" text-anchor="middle" font-weight="normal" fill="#111" >5000</text>
<text x="147.5" y="382.7" font-size="8.7" text-anchor="middle" font-weight="normal" fill="#111" >Seconds</text>
<text transform="translate(29.6,285.25) rotate(-90)" font-size="8.8" text-anchor="middle" fill="#111">Absorbance 350 or 405 nm</text>
<text x="149.1" y="211.75" font-size="8.8" text-anchor="middle" font-weight="bold" fill="#111" >Plasmin generation with SK</text>
<text transform="translate(0.9,222.8) scale(0.99,1)" font-size="18.4" font-weight="bold" fill="#111">C</text>
<line x1="62.6" y1="233.2" x2="74.6" y2="233.2" stroke="#111" stroke-width="1.8"/>
<line x1="62.6" y1="243.3" x2="74.6" y2="243.3" stroke="#111" stroke-width="1.9" stroke-dasharray="7.1 2.1"/>
<circle cx="68.6" cy="254.2" r="1.4" fill="#111"/>
<circle cx="68.6" cy="264.6" r="1.45" fill="#fff" stroke="#4a4a4a" stroke-width="0.85"/>
<text x="78.2" y="236" font-size="7.45" text-anchor="start" font-weight="normal" fill="#111" >Clot Turbidity (Control)</text>
<text x="79.1" y="245.9" font-size="7.45" text-anchor="start" font-weight="normal" fill="#111" >Clot Turbidity (A&#946;)</text>
<text x="80.7" y="256.9" font-size="7.45" text-anchor="start" font-weight="normal" fill="#111" >Plasmin Activity (Control)</text>
<text x="80.7" y="267.3" font-size="7.45" text-anchor="start" font-weight="normal" fill="#111" >Plasmin Activity (A&#946;)</text>
<rect x="337.4" y="76.2" width="64.40000000000003" height="81.7" fill="url(#pd)" stroke="#111" stroke-width="1.5"/>
<rect x="434.6" y="40" width="65.19999999999999" height="117.9" fill="url(#pl)" stroke="#111" stroke-width="1.5"/>
<line x1="353.6" y1="72.4" x2="386.5" y2="72.4" stroke="#111" stroke-width="1.4"/>
<line x1="370.05" y1="72.4" x2="370.05" y2="76.2" stroke="#111" stroke-width="1.2"/>
<line x1="450.3" y1="35.9" x2="483.6" y2="35.9" stroke="#111" stroke-width="1.4"/>
<line x1="466.95000000000005" y1="35.9" x2="466.95000000000005" y2="40" stroke="#111" stroke-width="1.2"/>
<circle cx="465.3" cy="27.1" r="1.1" fill="#111"/><circle cx="468.59999999999997" cy="27.1" r="1.1" fill="#111"/>
<line x1="321.4" y1="28.1" x2="321.4" y2="158.75" stroke="#111" stroke-width="1.9"/>
<line x1="320.54999999999995" y1="157.9" x2="515.5" y2="157.9" stroke="#111" stroke-width="1.9"/>
<line x1="317.79999999999995" y1="157.9" x2="321.4" y2="157.9" stroke="#111" stroke-width="1.6"/>
<text x="317.3" y="161.4" font-size="10.4" text-anchor="end" font-weight="normal" fill="#111" >0</text>
<line x1="317.79999999999995" y1="125.45" x2="321.4" y2="125.45" stroke="#111" stroke-width="1.6"/>
<text x="317.3" y="128.95" font-size="10.4" text-anchor="end" font-weight="normal" fill="#111" >500</text>
<line x1="317.79999999999995" y1="93.0" x2="321.4" y2="93.0" stroke="#111" stroke-width="1.6"/>
<text x="317.3" y="96.5" font-size="10.4" text-anchor="end" font-weight="normal" fill="#111" >1000</text>
<line x1="317.79999999999995" y1="60.55000000000001" x2="321.4" y2="60.55000000000001" stroke="#111" stroke-width="1.6"/>
<text x="317.3" y="64.05000000000001" font-size="10.4" text-anchor="end" font-weight="normal" fill="#111" >1500</text>
<line x1="317.79999999999995" y1="28.099999999999994" x2="321.4" y2="28.099999999999994" stroke="#111" stroke-width="1.6"/>
<text x="317.3" y="31.599999999999994" font-size="10.4" text-anchor="end" font-weight="normal" fill="#111" >2000</text>
<text x="369.6" y="167.2" font-size="7.8" text-anchor="middle" font-weight="normal" fill="#111" >Control</text>
<text x="467.20000000000005" y="167.2" font-size="7.8" text-anchor="middle" font-weight="normal" fill="#111" >A&#946;</text>
<text transform="translate(284.9,85.25) rotate(-90)" font-size="8.8" text-anchor="middle" fill="#111">Time to Half Lysis (s)</text>
<text x="417.4" y="17.1" font-size="8.8" text-anchor="middle" font-weight="bold" fill="#111" >Half-lysis with tPA</text>
<text transform="translate(274.2,15.3) scale(1.06,1)" font-size="18.4" font-weight="bold" fill="#111">B</text>
<rect x="337.9" y="256.9" width="64.70000000000005" height="95.60000000000002" fill="url(#pd)" stroke="#111" stroke-width="1.5"/>
<rect x="435" y="245" width="65" height="107.5" fill="url(#pl)" stroke="#111" stroke-width="1.5"/>
<line x1="353.7" y1="255.6" x2="386.8" y2="255.6" stroke="#111" stroke-width="1.4"/>
<line x1="370.25" y1="255.6" x2="370.25" y2="256.9" stroke="#111" stroke-width="1.2"/>
<line x1="451.2" y1="242.5" x2="483.8" y2="242.5" stroke="#111" stroke-width="1.4"/>
<line x1="467.5" y1="242.5" x2="467.5" y2="245" stroke="#111" stroke-width="1.2"/>
<circle cx="466.05" cy="231.5" r="1.1" fill="#111"/><circle cx="469.34999999999997" cy="231.5" r="1.1" fill="#111"/>
<line x1="321.6" y1="223.2" x2="321.6" y2="353.35" stroke="#111" stroke-width="1.9"/>
<line x1="320.75" y1="352.5" x2="515.9" y2="352.5" stroke="#111" stroke-width="1.9"/>
<line x1="318.0" y1="352.5" x2="321.6" y2="352.5" stroke="#111" stroke-width="1.6"/>
<text x="317.3" y="356.0" font-size="10.4" text-anchor="end" font-weight="normal" fill="#111" >0</text>
<line x1="318.0" y1="326.64" x2="321.6" y2="326.64" stroke="#111" stroke-width="1.6"/>
<text x="317.3" y="330.14" font-size="10.4" text-anchor="end" font-weight="normal" fill="#111" >500</text>
<line x1="318.0" y1="300.78" x2="321.6" y2="300.78" stroke="#111" stroke-width="1.6"/>
<text x="317.3" y="304.28" font-size="10.4" text-anchor="end" font-weight="normal" fill="#111" >1000</text>
<line x1="318.0" y1="274.92" x2="321.6" y2="274.92" stroke="#111" stroke-width="1.6"/>
<text x="317.3" y="278.42" font-size="10.4" text-anchor="end" font-weight="normal" fill="#111" >1500</text>
<line x1="318.0" y1="249.06" x2="321.6" y2="249.06" stroke="#111" stroke-width="1.6"/>
<text x="317.3" y="252.56" font-size="10.4" text-anchor="end" font-weight="normal" fill="#111" >2000</text>
<line x1="318.0" y1="223.2" x2="321.6" y2="223.2" stroke="#111" stroke-width="1.6"/>
<text x="317.3" y="226.7" font-size="10.4" text-anchor="end" font-weight="normal" fill="#111" >2500</text>
<text x="370.25" y="361.6" font-size="7.8" text-anchor="middle" font-weight="normal" fill="#111" >Control</text>
<text x="467.5" y="361.6" font-size="7.8" text-anchor="middle" font-weight="normal" fill="#111" >A&#946;</text>
<text transform="translate(287.6,289.55) rotate(-90)" font-size="8.8" text-anchor="middle" fill="#111">Time to Half Lysis (s)</text>
<text x="419.0" y="211.1" font-size="8.8" text-anchor="middle" font-weight="bold" fill="#111" >Half-lysis with SK</text>
<text transform="translate(274.8,222.4) scale(1.03,1)" font-size="18.4" font-weight="bold" fill="#111">D</text></svg>
</body></html>
